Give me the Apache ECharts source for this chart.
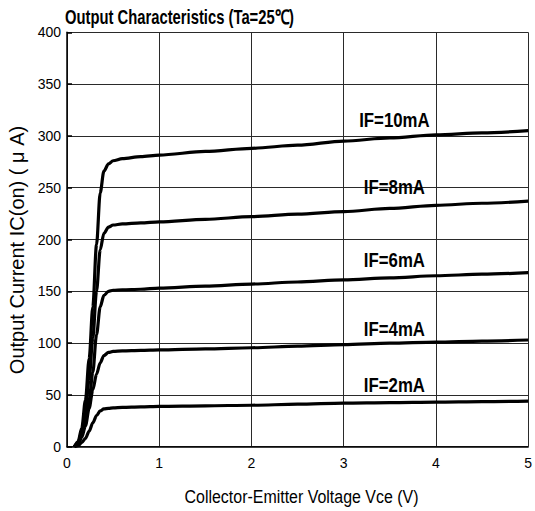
<!DOCTYPE html>
<html>
<head>
<meta charset="utf-8">
<script src="https://cdn.jsdelivr.net/npm/echarts@6/dist/echarts.min.js"></script>
<style>
html,body{margin:0;padding:0;background:#fff;}
#chart{width:535px;height:511px;}
</style>
</head>
<body>
<div id="chart"></div>
<script>
// ---- Data ----
const vce  = [0.08, 0.12, 0.16, 0.2, 0.24, 0.28, 0.32, 0.36, 0.4, 0.45, 0.5, 0.6, 0.8, 1, 1.5, 2, 2.5, 3, 3.5, 4, 4.5, 5];
const ic10 = [0, 5, 18, 45, 85, 135, 195, 245, 266, 273, 276, 278, 280, 281.5, 285, 288, 291, 295, 298, 301, 303, 305];
const ic8  = [0, 4, 14, 35, 65, 105, 150, 190, 206, 212, 214, 215, 216, 217, 219.5, 222, 224.5, 227, 230, 233, 235, 237];
const ic6  = [0, 3, 12, 28, 45, 72, 108, 135, 146, 150, 151, 151.5, 152, 153, 155, 157, 159, 161, 163, 165, 166.5, 168];
const ic4  = [0, 2, 9, 20, 37, 55, 70, 81, 88, 91, 92, 92.5, 93, 93.5, 94.5, 95.5, 97, 98.5, 100, 101, 102, 103];
const ic2  = [0, 1, 4, 8, 15, 23, 30, 34.5, 36.5, 37, 37.5, 38, 38.5, 39, 39.5, 40, 41, 42, 42.5, 43, 43.5, 44];

const curveNames = ['IF=10mA', 'IF=8mA', 'IF=6mA', 'IF=4mA', 'IF=2mA'];
const curveValues = [ic10, ic8, ic6, ic4, ic2];

const labelText = ['IF=10mA', 'IF=8mA', 'IF=6mA', 'IF=4mA', 'IF=2mA'];
const labelVce  = [3.55, 3.55, 3.55, 3.55, 3.55];
const labelIc   = [315, 251, 180.5, 114, 60];

const titleText = 'Output Characteristics (Ta=25℃)';
const xName = 'Collector-Emitter Voltage Vce (V)';
const yName = 'Output Current IC(on) ( μ A)';

// ---- Chart ----
const FONT = '"Liberation Sans", Arial, Helvetica, sans-serif';
const chart = echarts.init(document.getElementById('chart'), null, {renderer: 'svg'});

const lineSeries = curveValues.map((vals, i) => ({
  name: curveNames[i],
  type: 'line',
  data: vce.map((v, j) => [v, vals[j]]),
  showSymbol: false,
  smooth: 0.3,
  smoothMonotone: 'x',
  lineStyle: {color: '#000', width: 3.2},
  itemStyle: {color: '#000'},
  z: 3
}));

const labelSeries = {
  type: 'custom',
  data: labelVce.map((v, i) => [v, labelIc[i]]),
  renderItem: function (params, api) {
    const p = api.coord([api.value(0), api.value(1)]);
    return {
      type: 'text',
      x: p[0], y: p[1],
      scaleX: 0.84,
      style: {
        text: labelText[params.dataIndex],
        font: 'bold 20px ' + FONT,
        fill: '#000',
        align: 'center',
        verticalAlign: 'middle'
      }
    };
  },
  z: 5
};

chart.setOption({
  animation: false,
  backgroundColor: '#fff',
  grid: {left: 67, right: 5.5, top: 32.3, bottom: 64.3, show: false},
  xAxis: {
    type: 'value', min: 0, max: 5, interval: 1,
    axisLine: {show: true, lineStyle: {color: '#000', width: 1.5}},
    axisTick: {show: false},
    axisLabel: {color: '#000', fontSize: 14, fontFamily: FONT, margin: 9},
    splitLine: {show: true, lineStyle: {color: '#2a2a2a', width: 1}}
  },
  yAxis: {
    type: 'value', min: 0, max: 400, interval: 50,
    axisLine: {show: true, lineStyle: {color: '#000', width: 1.5}},
    axisTick: {show: true, inside: true, length: 5, lineStyle: {color: '#000', width: 1.5}},
    axisLabel: {color: '#000', fontSize: 14, fontFamily: FONT, margin: 6},
    splitLine: {show: true, lineStyle: {color: '#2a2a2a', width: 1}}
  },
  graphic: [
    {
      type: 'text', x: 65, y: 16.7, scaleX: 0.74, z: 10,
      style: {text: titleText, font: 'bold 20px ' + FONT, fill: '#000', align: 'left', verticalAlign: 'middle'}
    },
    {
      type: 'text', x: 301.5, y: 496.3, scaleX: 0.84, z: 10,
      style: {text: xName, font: '19px ' + FONT, fill: '#000', align: 'center', verticalAlign: 'middle'}
    },
    {
      type: 'text', x: 17, y: 250, rotation: Math.PI / 2, z: 10,
      style: {text: yName, font: '20px ' + FONT, fill: '#000', align: 'center', verticalAlign: 'middle'}
    }
  ],
  series: lineSeries.concat([labelSeries])
});
</script>
</body>
</html>
